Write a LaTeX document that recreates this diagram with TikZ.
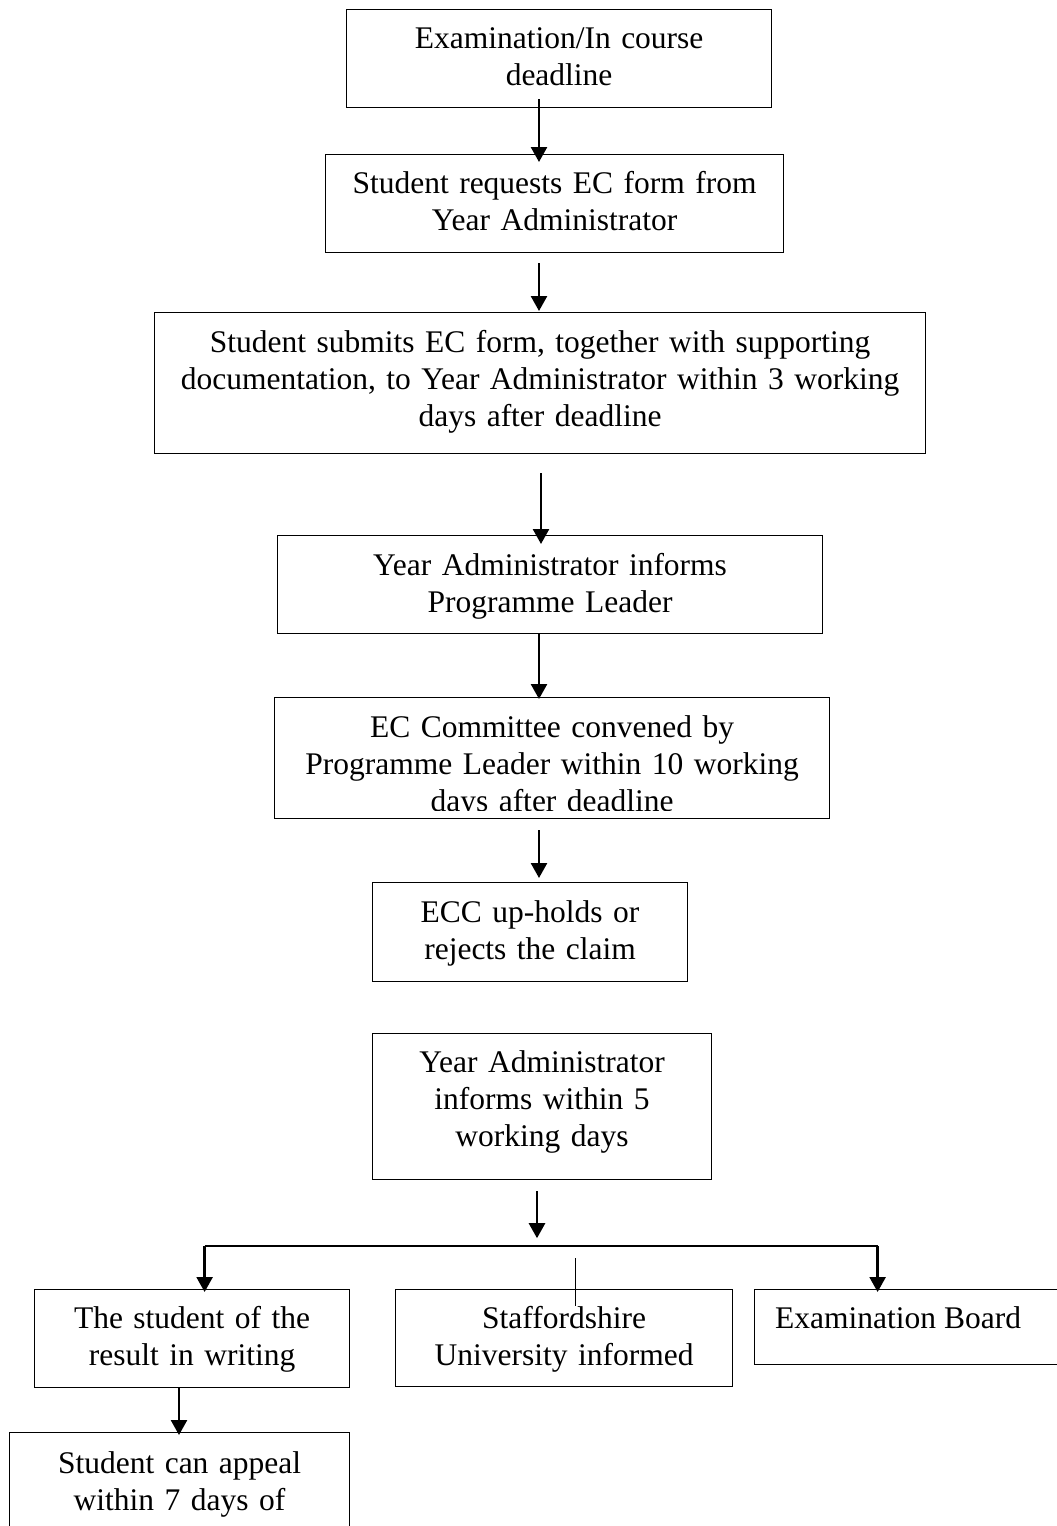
\documentclass[tikz,border=0pt]{standalone}
\usepackage{fontspec}
\setmainfont{Liberation Serif}
\usetikzlibrary{arrows.meta}

\tikzset{caja/.style={draw, line width=1.2pt, anchor=north west, inner sep=0pt},
         etq/.style={font=\fontsize{31.5}{37}\selectfont, align=center, anchor=base, inner sep=0pt},
         flecha/.style={line width=2.5pt, -{Triangle[length=15pt,width=16pt]}}}

\begin{document}
\begin{tikzpicture}[x=1pt, y=1pt]
  \useasboundingbox (0,0) rectangle (1057,-1526);
  \coordinate (eje) at (539,0);
  \node[caja, minimum width=425pt, minimum height=98pt]  (b1) at (346,-9) {};
  \node[etq, text width=405pt] (t1) at ([yshift=-39pt]b1.north) {Examination/In course\\deadline};
  \node[caja, minimum width=458pt, minimum height=98pt]  (b2) at (325,-154) {};
  \node[etq, text width=438pt] (t2) at ([yshift=-39pt]b2.north) {Student requests EC form from\\Year Administrator};
  \node[caja, minimum width=771pt, minimum height=141pt] (b3) at (154,-312) {};
  \node[etq, text width=751pt] (t3) at ([yshift=-40pt]b3.north) {Student submits EC form, together with supporting\\documentation, to Year Administrator within 3 working\\days after deadline};
  \node[caja, minimum width=545pt, minimum height=98pt]  (b4) at (277,-535) {};
  \node[etq, text width=525pt] (t4) at ([yshift=-40pt]b4.north) {Year Administrator informs\\Programme Leader};
  \node[caja, minimum width=555pt, minimum height=121pt] (b5) at (274,-697) {};
  \begin{scope}
    \clip (274,-697) rectangle (829,-810);
    \node[etq, text width=535pt] (t5) at ([yshift=-40pt]b5.north) {EC Committee convened by\\Programme Leader within 10 working\\days after deadline};
  \end{scope}
  \node[caja, minimum width=315pt, minimum height=99pt]  (b6) at (372,-882) {};
  \node[etq, text width=295pt] (t6) at ([yshift=-40pt]b6.north) {ECC up-holds or\\rejects the claim};
  \node[caja, minimum width=339pt, minimum height=146pt] (b7) at (372,-1033) {};
  \node[etq, text width=319pt] (t7) at ([yshift=-39pt]b7.north) {Year Administrator\\informs within 5\\working days};
  \node[caja, minimum width=315pt, minimum height=98pt]  (b8) at (34,-1289) {};
  \node[etq, text width=295pt] (t8) at ([yshift=-39pt]b8.north) {The student of the\\result in writing};
  \node[caja, minimum width=337pt, minimum height=97pt]  (b9) at (395,-1289) {};
  \node[etq, text width=317pt] (t9) at ([yshift=-39pt]b9.north) {Staffordshire\\University informed};
  \node[caja, minimum width=316pt, minimum height=75pt]  (b10) at (754,-1289) {};
  \node[etq, anchor=base west] (t10) at (775,-1328) {Examination Board};
  \node[caja, minimum width=340pt, minimum height=110pt] (b11) at (9,-1432) {};
  \node[etq, text width=320pt] (t11) at ([yshift=-41pt]b11.north) {Student can appeal\\within 7 days of};

  \draw[flecha, shorten <=-9pt, shorten >=-8pt] (b1.south -| eje) -- (b2.north -| eje);
  \draw[flecha, shorten <=10pt, shorten >=1pt]  (b2.south -| eje) -- (b3.north -| eje);
  \draw[flecha, shorten <=19pt, shorten >=-9pt] ([xshift=2pt]b3.south -| eje) -- ([xshift=2pt]b4.north -| eje);
  \draw[flecha, shorten >=-2pt]                 (b4.south -| eje) -- (b5.north -| eje);
  \draw[flecha, shorten <=11pt, shorten >=4pt]  (b5.south -| eje) -- (b6.north -| eje);
  \coordinate (bus) at ([yshift=-66pt]b7.south -| eje);
  \coordinate (izq) at ([xshift=12.5pt]bus -| b8.north);
  \coordinate (der) at ([xshift=-35pt]bus -| b10.north);
  \draw[flecha, shorten <=11pt, shorten >=8pt]  ([xshift=-2pt]b7.south -| eje) -- ([xshift=-2pt]bus);
  \draw[line width=2.5pt] (izq) -- (der);
  \draw[flecha, shorten >=-3pt] (izq) -- (izq |- b8.north);
  \draw[flecha, shorten >=-3pt] (der) -- (der |- b10.north);
  \draw[line width=0.8pt] ([yshift=-12pt]bus -| 575,0) -- (t9.north -| 575,0);
  \draw[flecha, shorten >=-3pt] (179,0 |- b8.south) -- (179,0 |- b11.north);
\end{tikzpicture}
\end{document}
